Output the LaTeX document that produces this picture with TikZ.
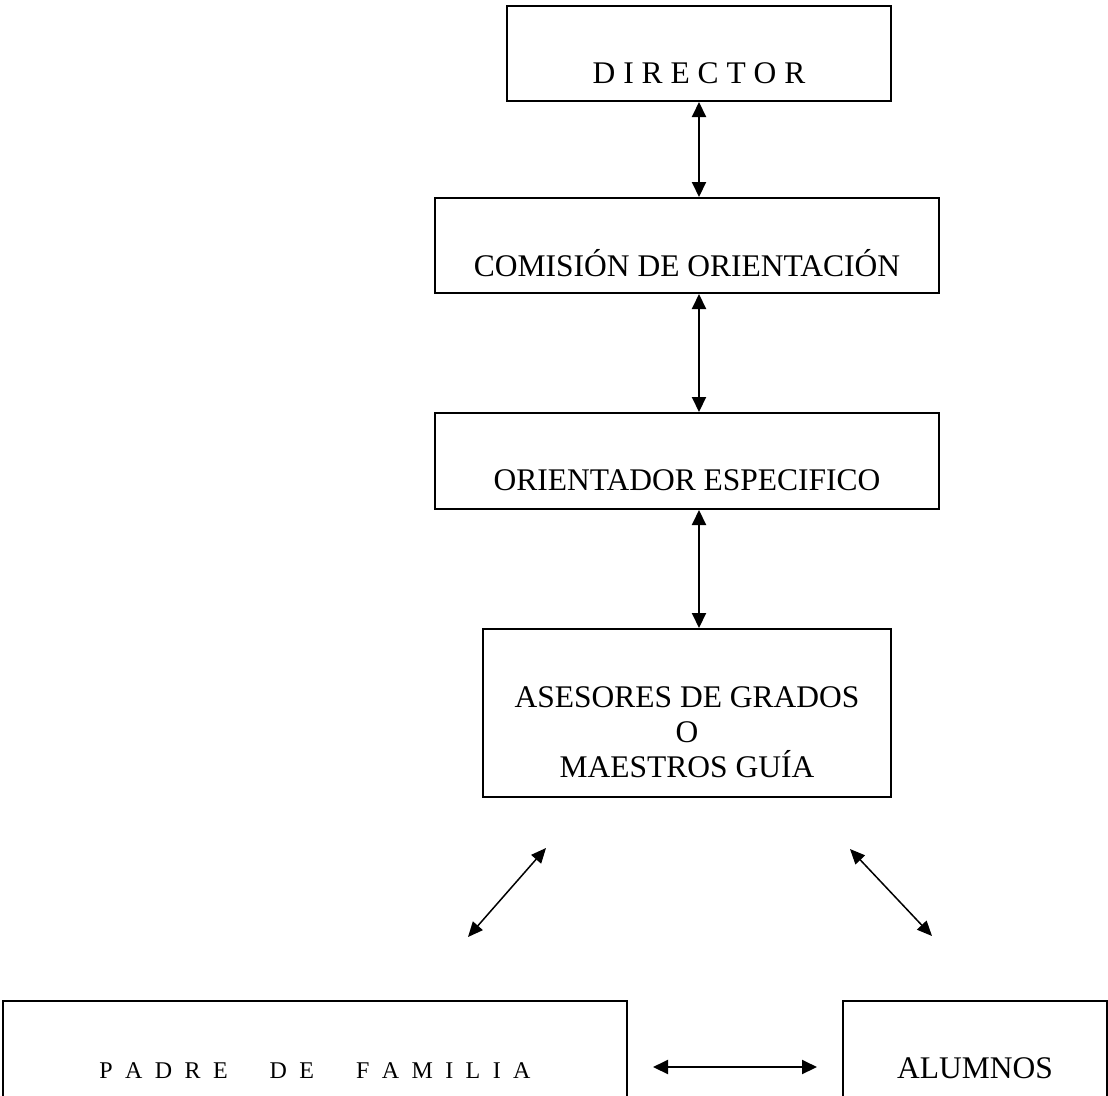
\documentclass[tikz,border=0pt]{standalone}
\usepackage{fontspec}
\setmainfont{Liberation Serif}
\usetikzlibrary{positioning, arrows.meta}

\tikzset{
    orgbox/.style={draw, line width=2pt, inner sep=0pt, outer sep=1pt, align=center, font=\fontsize{31.5}{35}\selectfont},
    biarrow/.style={{Triangle[length=15pt,width=14pt]}-{Triangle[length=15pt,width=14pt]}, line width=2pt},
    thinarrow/.style={{Triangle[length=15pt,width=13pt]}-{Triangle[length=15pt,width=13pt]}, line width=1.5pt}
}

\begin{document}
\begin{tikzpicture}[x=1pt, y=-1pt]
        % Page frame, the lower boxes run off the bottom edge
        \useasboundingbox (0,0) rectangle (1108,1095);
        \clip (0,0) rectangle (1108,1095);

        %%% Chain of boxes down the middle
            % Director at the top
            \node[orgbox, minimum width=384pt, minimum height=95pt] (director) at (699,53.5) {\strut\\D I R E C T O R};

            % Commission, slightly wider and shifted left
            \node[orgbox, minimum width=504pt, minimum height=95pt, below=95pt of director, xshift=-12pt] (comision) {\strut\\COMISIÓN DE ORIENTACIÓN};

            % Specific counsellor
            \node[orgbox, minimum width=504pt, minimum height=96pt, below=118pt of comision] (orientador) {\strut\\ORIENTADOR ESPECIFICO};

            % Grade advisers, three lines of text
            \node[orgbox, minimum width=408pt, minimum height=168pt, below=118pt of orientador] (asesores) {\strut\\ASESORES DE GRADOS\\O\\MAESTROS GUÍA};

        %%% Bottom row
            % Parents, text set smaller and spread out
            \node[orgbox, minimum width=624pt, minimum height=140pt, font=\fontsize{24}{35}\selectfont] (padres) at (315,1071) {\strut\\\spaceskip=12.4pt\relax P A D R E\hspace{42pt}D E\hspace{42pt}F A M I L I A\\\strut};

            % Pupils, right of the parents box
            \node[orgbox, minimum width=264pt, minimum height=140pt, right=214pt of padres] (alumnos) {\strut\\ALUMNOS\\\strut};

        %%% Free ends of the slanted arrows
            \coordinate (aseLeft) at (546,848);
            \coordinate (padTop) at (468,937);
            \coordinate (aseRight) at (850,849);
            \coordinate (aluTop) at (932,936);

        %%% Connectors
            \draw[biarrow] (director.south) -- (director.south |- comision.north);
            \draw[biarrow] (director.south |- comision.south) -- (director.south |- orientador.north);
            \draw[biarrow] (director.south |- orientador.south) -- (director.south |- asesores.north);
            \draw[thinarrow] (aseLeft) -- (padTop);
            \draw[thinarrow] (aseRight) -- (aluTop);
            \draw[biarrow] ([shift={(25,-4)}]padres.east) -- ([shift={(-25,-4)}]alumnos.west);
\end{tikzpicture}
\end{document}
